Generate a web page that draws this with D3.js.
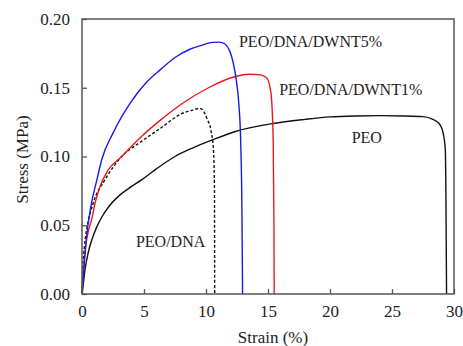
<!DOCTYPE html>
<html>
<head>
<meta charset="utf-8">
<script src="https://cdn.jsdelivr.net/npm/d3@7"></script>
<style>
  body { margin: 0; background: #fff; }
  svg text { font-family: 'Liberation Serif', 'Times New Roman', 'DejaVu Serif', serif; fill: #222; }
</style>
</head>
<body>
<div id="chart"></div>
<script>
const xTicks = [0, 5, 10, 15, 20, 25, 30];
const yTicks = [0, 0.05, 0.1, 0.15, 0.2];

// PEO/DNA/DWNT5%
const dwnt5Strain = [0, 0.15, 0.35, 0.7, 1.2, 1.6, 2.5, 3.9, 5.2, 6.3, 7.5, 8.7, 9.7, 10.5, 11.1, 11.5, 11.9, 12.2, 12.45, 12.65, 12.8, 12.9, 12.95];
const dwnt5Stress = [0, 0.018, 0.04, 0.063, 0.083, 0.098, 0.117, 0.139, 0.154, 0.163, 0.172, 0.178, 0.181, 0.183, 0.1832, 0.182, 0.177, 0.168, 0.155, 0.138, 0.11, 0.06, 0];

// PEO/DNA/DWNT1%
const dwnt1Strain = [0, 0.1, 0.3, 0.55, 0.8, 1.05, 1.45, 2.1, 3.2, 4.8, 6.4, 8.0, 10.2, 12.3, 13.5, 14.4, 14.9, 15.15, 15.3, 15.42, 15.48, 15.5];
const dwnt1Stress = [0, 0.015, 0.035, 0.047, 0.055, 0.066, 0.078, 0.09, 0.1, 0.1146, 0.127, 0.138, 0.15, 0.158, 0.1598, 0.1594, 0.157, 0.151, 0.14, 0.11, 0.05, 0];

// PEO/DNA
const dnaStrain = [0, 0.08, 0.2, 0.38, 0.9, 1.85, 3.2, 4.8, 6.4, 8.0, 9.0, 9.5, 9.8, 10.1, 10.4, 10.6, 10.68, 10.7];
const dnaStress = [0, 0.02, 0.035, 0.047, 0.066, 0.083, 0.1, 0.111, 0.121, 0.131, 0.134, 0.135, 0.133, 0.127, 0.119, 0.105, 0.08, 0];

// PEO
const peoStrain = [0, 0.1, 0.24, 0.5, 0.78, 1.2, 1.6, 2.2, 2.93, 3.8, 4.8, 6.0, 7.5, 9.0, 10.5, 12.3, 15.4, 18, 20, 22, 24, 26, 27.5, 28.3, 28.8, 29.1, 29.3, 29.35, 29.4];
const peoStress = [0, 0.007, 0.0175, 0.03, 0.039, 0.049, 0.056, 0.064, 0.071, 0.077, 0.083, 0.091, 0.1, 0.1065, 0.112, 0.118, 0.124, 0.127, 0.1288, 0.1295, 0.1297, 0.1295, 0.129, 0.127, 0.124, 0.118, 0.105, 0.07, 0];

const labelNames = ['PEO/DNA/DWNT5%', 'PEO/DNA/DWNT1%', 'PEO', 'PEO/DNA'];
const labelStrain = [12.66, 15.9, 21.75, 4.35];
const labelStress = [0.1798, 0.145, 0.1098, 0.034];

const width = 463;
const height = 346;
const margin = { left: 82, right: 9, top: 19, bottom: 52 };
const AXIS = '#555';
const FONT = "'Liberation Serif', 'Times New Roman', 'DejaVu Serif', serif";

const svg = d3.select('#chart').append('svg')
  .attr('width', width)
  .attr('height', height);

const x = d3.scaleLinear()
  .domain([0, 30])
  .range([margin.left, width - margin.right]);

const y = d3.scaleLinear()
  .domain([0, 0.2])
  .range([height - margin.bottom, margin.top]);

const series = [
  { strain: peoStrain, stress: peoStress, color: '#111', dash: null },
  { strain: dnaStrain, stress: dnaStress, color: '#111', dash: '3,2' },
  { strain: dwnt1Strain, stress: dwnt1Stress, color: '#e8191c', dash: null },
  { strain: dwnt5Strain, stress: dwnt5Stress, color: '#1a1ae6', dash: null }
];

const line = d3.line()
  .x(d => x(d[0]))
  .y(d => y(d[1]))
  .curve(d3.curveMonotoneX);

series.forEach(s => {
  svg.append('path')
    .datum(s.strain.map((v, i) => [v, s.stress[i]]))
    .attr('d', line)
    .attr('fill', 'none')
    .attr('stroke', s.color)
    .attr('stroke-width', 1.4)
    .attr('stroke-dasharray', s.dash);
});

// frame
svg.append('rect')
  .attr('x', x(0))
  .attr('y', y(0.2))
  .attr('width', x(30) - x(0))
  .attr('height', y(0) - y(0.2))
  .attr('fill', 'none')
  .attr('stroke', AXIS)
  .attr('stroke-width', 1.5);

const xAxis = svg.append('g')
  .attr('transform', `translate(0, ${y(0)})`)
  .call(d3.axisBottom(x).tickValues(xTicks).tickSizeInner(-5).tickSizeOuter(0).tickPadding(11).tickFormat(d3.format('d')));

const yAxis = svg.append('g')
  .attr('transform', `translate(${x(0)}, 0)`)
  .call(d3.axisLeft(y).tickValues(yTicks).tickSizeInner(-5).tickSizeOuter(0).tickPadding(12).tickFormat(d3.format('.2f')));

[xAxis, yAxis].forEach(g => {
  g.attr('font-family', FONT);
  g.select('.domain').remove();
  g.selectAll('line').attr('stroke', AXIS).attr('stroke-width', 1.3);
  g.selectAll('text')
    .style('font-family', FONT)
    .style('font-size', '17px')
    .attr('fill', '#222');
});

svg.append('text')
  .attr('x', (x(0) + x(30)) / 2 + 5)
  .attr('y', height - 3)
  .attr('text-anchor', 'middle')
  .style('font-family', FONT)
  .style('font-size', '17px')
  .text('Strain (%)');

svg.append('text')
  .attr('transform', `translate(28, ${(y(0) + y(0.2)) / 2 + 3}) rotate(-90)`)
  .attr('text-anchor', 'middle')
  .style('font-family', FONT)
  .style('font-size', '17px')
  .text('Stress (MPa)');

labelNames.forEach((name, i) => {
  svg.append('text')
    .attr('x', x(labelStrain[i]))
    .attr('y', y(labelStress[i]))
    .style('font-family', FONT)
    .style('font-size', '16px')
    .text(name);
});
</script>
</body>
</html>
